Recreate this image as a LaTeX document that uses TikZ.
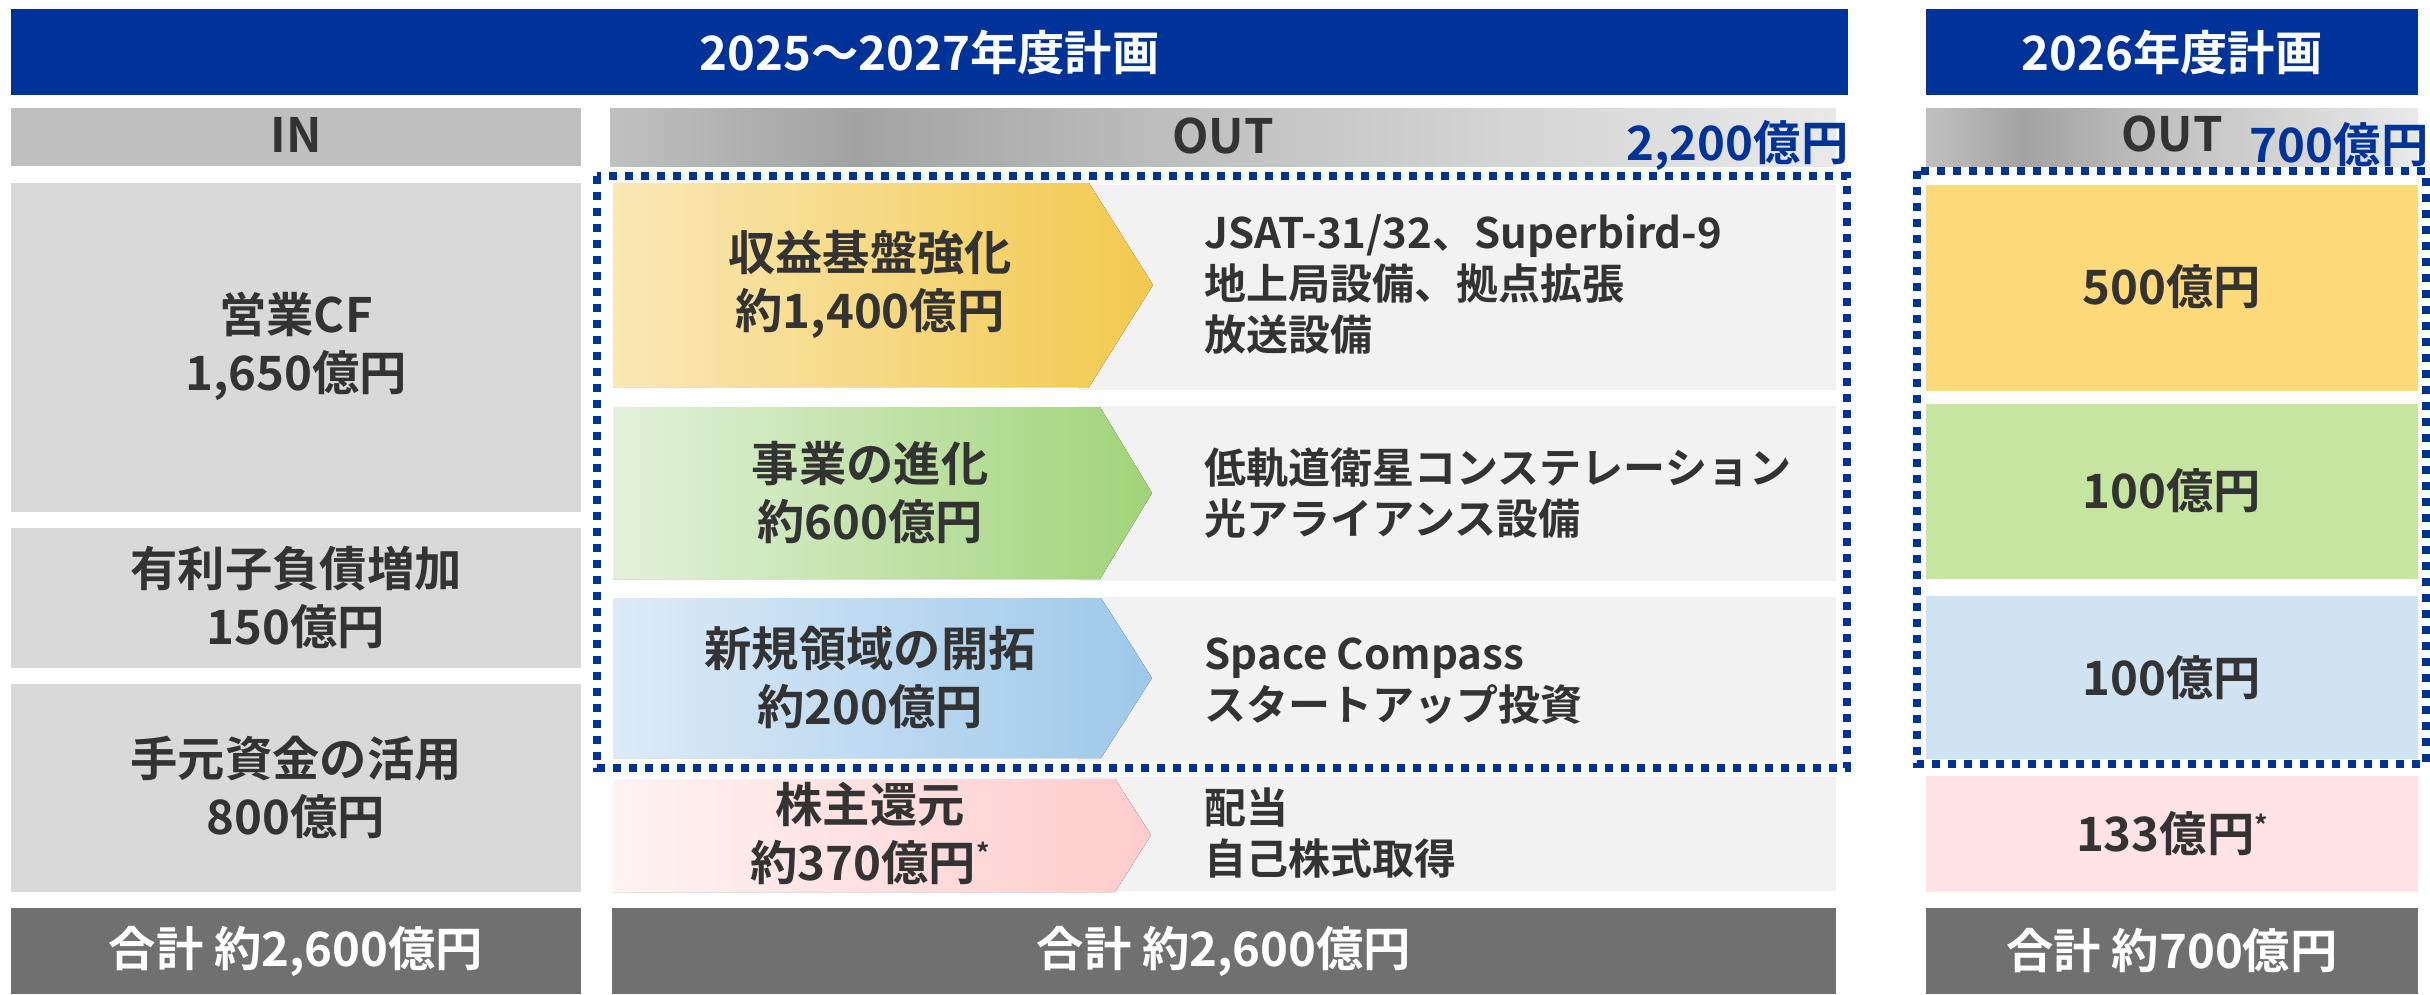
\documentclass[tikz,border=0pt]{standalone}
\usepackage{fontspec}
\setmainfont{Noto Sans CJK JP}[BoldFont={Noto Sans CJK JP Bold}]
\definecolor{hdrblue}{HTML}{003399}
\definecolor{inbar}{HTML}{BFBFBF}
\definecolor{inbox}{HTML}{D9D9D9}
\definecolor{descgray}{HTML}{F2F2F2}
\definecolor{darkbox}{HTML}{707070}
\definecolor{txt}{HTML}{333333}
\definecolor{og1}{HTML}{C0C0C0}
\definecolor{og2}{HTML}{A3A3A3}
\definecolor{og3}{HTML}{C2C2C2}
\definecolor{og4}{HTML}{E9E9E9}
\definecolor{goldL}{HTML}{FAE8B6}
\definecolor{goldR}{HTML}{F2C94E}
\definecolor{greenL}{HTML}{E3F1DA}
\definecolor{greenR}{HTML}{A0D478}
\definecolor{blueL}{HTML}{DDEBF7}
\definecolor{blueR}{HTML}{9DC8EA}
\definecolor{pinkL}{HTML}{FFF3F3}
\definecolor{pinkR}{HTML}{FFCCCC}
\definecolor{gold26}{HTML}{FFDA7A}
\definecolor{green26}{HTML}{C5E5A1}
\definecolor{blue26}{HTML}{CFE3F3}
\definecolor{pink26}{HTML}{FFE3E5}
\pgfdeclarehorizontalshading{outshade}{100bp}{color(0bp)=(og1); color(25bp)=(og1); color(35bp)=(og2); color(50bp)=(og3); color(75bp)=(og4); color(100bp)=(og4)}
\newcommand\lblfont{\fontsize{14.2}{17.4}\selectfont\bfseries}
\newcommand\descfont{\fontsize{12.6}{15.3}\selectfont\bfseries}
\newcommand\supast{\raisebox{0.35em}{\fontsize{8}{8}\selectfont *}}
\begin{document}
\begin{tikzpicture}[x=0.3pt,y=-0.3pt,
  lbl/.style={text=txt, font=\lblfont, align=center, inner sep=0pt},
  hdr/.style={text=white, font=\lblfont, align=center, inner sep=0pt},
  amount/.style={text=hdrblue, font=\lblfont, inner sep=0pt, anchor=base east},
  desc/.style={text=txt, font=\descfont, align=left, inner sep=0pt, anchor=west},
  dotborder/.style={draw=hdrblue, line width=2.4pt, dash pattern=on 2.4pt off 2.4pt}]
\useasboundingbox (0,0) rectangle (2430,994);
% header bars
\fill[hdrblue] (11,9) rectangle (1848,95);
\node[hdr] (t1) at (929.5,52) {2025～2027年度計画};
\fill[hdrblue] (1926,9) rectangle (2418,95);
\node[hdr] (t2) at (2172,52) {2026年度計画};
% IN / OUT bars
\fill[inbar] (11,108) rectangle (581,166);
\node[lbl] (inh) at (296,135) {IN};
\shade[shading=outshade] (610,108) rectangle (1836,166);
\node[lbl] (outh1) at (1223,136) {OUT};
\node[amount] (amt1) at (1849,160) {2,200億円};
\shade[shading=outshade] (1926,108) rectangle (2418,166);
\node[lbl] (outh2) at (2172,134) {OUT};
\node[amount] (amt2) at (2429,162) {700億円};
% IN boxes
\fill[inbox] (11,183) rectangle (581,512);
\node[lbl] (in1) at (296,346) {営業CF\\1,650億円};
\fill[inbox] (11,528) rectangle (581,668);
\node[lbl] (in2) at (296,597) {有利子負債増加\\150億円};
\fill[inbox] (11,684) rectangle (581,892);
\node[lbl] (in3) at (296,787) {手元資金の活用\\800億円};
% description boxes
\fill[descgray] (1078,185) rectangle (1836,390);
\fill[descgray] (1078,406) rectangle (1836,581);
\fill[descgray] (1078,597) rectangle (1836,761);
\fill[descgray] (1078,777) rectangle (1836,891);
% chevrons
\fill[left color=goldL, right color=goldR] (613,183) -- (1089,183) -- (1153,285) -- (1089,387) -- (613,387) -- cycle;
\fill[left color=greenL, right color=greenR] (613,407) -- (1100,407) -- (1152,493) -- (1100,579) -- (613,579) -- cycle;
\fill[left color=blueL, right color=blueR] (613,598) -- (1101,598) -- (1152,678) -- (1101,758) -- (613,758) -- cycle;
\fill[left color=pinkL, right color=pinkR] (613,779) -- (1115,779) -- (1151,835) -- (1115,892) -- (613,892) -- cycle;
\node[lbl] (a1) at (870,284) {収益基盤強化\\約1,400億円};
\node[lbl] (a2) at (870,493) {事業の進化\\約600億円};
\node[lbl] (a3) at (870,677) {新規領域の開拓\\約200億円};
\node[lbl] (a4) at (870,833) {株主還元\\約370億円\supast};
\node[desc] (d1) at (1204,284) {JSAT-31/32、Superbird-9\\地上局設備、拠点拡張\\放送設備};
\node[desc] (d2) at (1204,493) {低軌道衛星コンステレーション\\光アライアンス設備};
\node[desc] (d3) at (1204,681) {Space Compass\\スタートアップ投資};
\node[desc] (d4) at (1204,833) {配当\\自己株式取得};
% 2026 boxes
\fill[gold26] (1926,185) rectangle (2418,391);
\node[lbl] (o1) at (2172,287) {500億円};
\fill[green26] (1926,404) rectangle (2418,579);
\node[lbl] (o2) at (2172,491) {100億円};
\fill[blue26] (1926,596) rectangle (2418,759);
\node[lbl] (o3) at (2172,678) {100億円};
\fill[pink26] (1926,776) rectangle (2418,892);
\node[lbl] (o4) at (2172,834) {133億円\supast};
% totals
\fill[darkbox] (11,908) rectangle (581,994);
\node[hdr] (s1) at (296,951) {合計 約2,600億円};
\fill[darkbox] (612,908) rectangle (1836,994);
\node[hdr] (s2) at (1224,951) {合計 約2,600億円};
\fill[darkbox] (1926,908) rectangle (2418,994);
\node[hdr] (s3) at (2172,951) {合計 約700億円};
% dotted frames
\draw[dotborder] (597,176) rectangle (1847,768);
\draw[dotborder] (1917,171) rectangle (2426,764);
\end{tikzpicture}
\end{document}
